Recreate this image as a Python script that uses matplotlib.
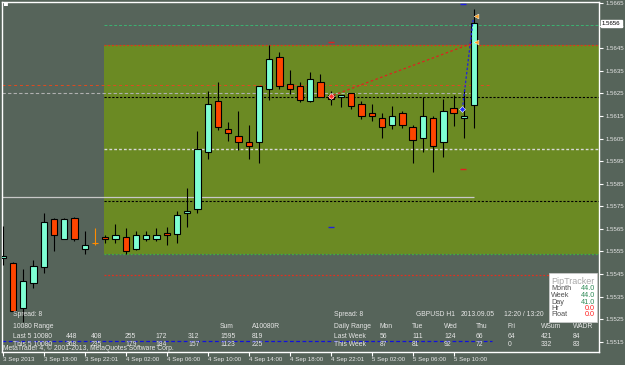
#!/usr/bin/env python3
"""MT4-style GBPUSD H1 candle chart, 3-5 Sep 2013."""
import matplotlib
matplotlib.use('Agg')
import matplotlib.pyplot as plt
from matplotlib.patches import Rectangle

plt.rcParams['font.family'] = ['Liberation Sans', 'DejaVu Sans']

# --- data ---
bar_open = [1.55520, 1.55498, 1.55301, 1.55411, 1.55479, 1.55694, 1.55607, 1.55699,
            1.55562, 1.55585, 1.55612, 1.55607, 1.55612, 1.55562, 1.55607, 1.55607,
            1.55630, 1.55626, 1.55722, 1.55740, 1.55992, 1.56216, 1.56092, 1.56060,
            1.56033, 1.56033, 1.56270, 1.56412, 1.56293, 1.56284, 1.56216, 1.56302,
            1.56243, 1.56234, 1.56252, 1.56202, 1.56165, 1.56142, 1.56110, 1.56165,
            1.56101, 1.56051, 1.56142, 1.56033, 1.56184, 1.56142, 1.56197]
bar_high = [1.55662, 1.55502, 1.55470, 1.55511, 1.55722, 1.55699, 1.55699, 1.55703,
            1.55639, 1.55653, 1.55621, 1.55671, 1.55653, 1.55639, 1.55639, 1.55653,
            1.55658, 1.55731, 1.55831, 1.56083, 1.56261, 1.56302, 1.56124, 1.56174,
            1.56110, 1.56284, 1.56463, 1.56435, 1.56353, 1.56302, 1.56344, 1.56335,
            1.56261, 1.56243, 1.56252, 1.56216, 1.56202, 1.56165, 1.56193, 1.56174,
            1.56110, 1.56234, 1.56152, 1.56225, 1.56243, 1.56270, 1.56623]
bar_low = [1.55488, 1.55283, 1.55237, 1.55388, 1.55456, 1.55553, 1.55603, 1.55598,
           1.55539, 1.55580, 1.55589, 1.55589, 1.55539, 1.55557, 1.55594, 1.55594,
           1.55580, 1.55585, 1.55658, 1.55722, 1.55960, 1.56088, 1.56037, 1.56001,
           1.55960, 1.55941, 1.56220, 1.56270, 1.56248, 1.56211, 1.56211, 1.56234,
           1.56197, 1.56188, 1.56179, 1.56138, 1.56129, 1.56051, 1.56092, 1.56097,
           1.55941, 1.55992, 1.55900, 1.55969, 1.56106, 1.56051, 1.56097]
bar_close = [1.55530, 1.55287, 1.55420, 1.55484, 1.55681, 1.55621, 1.55694, 1.55603,
             1.55580, 1.55585, 1.55603, 1.55621, 1.55553, 1.55621, 1.55621, 1.55621,
             1.55621, 1.55713, 1.55731, 1.56005, 1.56202, 1.56101, 1.56074, 1.56033,
             1.56019, 1.56284, 1.56403, 1.56284, 1.56270, 1.56220, 1.56312, 1.56234,
             1.56225, 1.56243, 1.56193, 1.56152, 1.56152, 1.56101, 1.56152, 1.56110,
             1.56042, 1.56152, 1.56019, 1.56174, 1.56161, 1.56152, 1.56563]

time_ticks = [0, 4, 8, 12, 16, 20, 24, 28, 32, 36, 40, 44]
time_labels = ['3 Sep 2013', '3 Sep 18:00', '3 Sep 22:01', '4 Sep 02:00', '4 Sep 06:00',
               '4 Sep 10:00', '4 Sep 14:00', '4 Sep 18:00', '4 Sep 22:01', '5 Sep 02:00',
               '5 Sep 06:00', '5 Sep 10:00']
price_ticks = [1.5515, 1.5525, 1.5535, 1.5545, 1.5555, 1.5565, 1.5575, 1.5585,
               1.5595, 1.5605, 1.5615, 1.5625, 1.5635, 1.5645, 1.5655, 1.5665]
bid_price = 1.5656

zone_top = 1.56463
zone_bottom = 1.55539
zone_start = 9.9

# indicator levels
lvl_bid_line = 1.56554
lvl_red_upper = 1.56289
lvl_grey_upper = 1.56252
lvl_black_upper = 1.56234
lvl_white_mid = 1.56005
lvl_grey_solid = 1.55790
lvl_black_lower = 1.55772
lvl_red_lower = 1.55447
lvl_blue_lower = 1.55155

# trade arrows / lines
trade_red = ([31.8, 45.8], [1.56234, 1.56472])
trade_blue = ([44.85, 45.9], [1.56180, 1.56577])

# stats tables
left_cols = [448, 408, 255, 172, 312, 1595, 819]
left_this = [368, 235, 179, 184, 157, 1123, 225]
day_cols = ['Mon', 'Tue', 'Wed', 'Thu', 'Fri', 'WSum', 'WADR']
last_week = ['56', '111', '124', '66', '64', '421', '84']
this_week = ['87', '81', '92', '72', '0', '332', '83']
pip_names = ['Month', 'Week', 'Day', 'Hr', 'Float']
pip_vals = ['44.0', '44.0', '41.0', '0.0', '0.0']

BG = '#56645a'
ZONE = '#6b8a23'
BULL = '#7fffd4'
BEAR = '#ff4500'
TXT = '#e6e6e6'
W, H = 625, 365
FS = 4.9

fig = plt.figure(figsize=(W / 100, H / 100), dpi=100, facecolor=BG)
ax = fig.add_axes([2 / W, 1 - 352 / H, 597 / W, 350 / H], facecolor=BG)
ax.set_xlim(-0.07, 58.18)
ax.set_ylim(1.551043, 1.566549)
xmax = 58.18

# green zone
ax.add_patch(Rectangle((zone_start, zone_bottom), xmax - zone_start, zone_top - zone_bottom,
                       facecolor=ZONE, edgecolor='none', zorder=0))
ax.hlines(zone_top, zone_start, xmax, colors='#e03020', linestyles=(0, (1.5, 1.5)), lw=0.9, zorder=1)
ax.hlines(zone_bottom, zone_start, xmax, colors='#40b040', linestyles=(0, (1.5, 1.5)), lw=0.9, zorder=1)

# horizontal levels
ax.hlines(lvl_bid_line, zone_start, xmax, colors='#3cb371', linestyles=(0, (3, 2)), lw=0.7, zorder=1)
ax.hlines(lvl_red_upper, -0.07, 47.7, colors='#e04a20', linestyles=(0, (3, 3)), lw=0.7, zorder=1)
ax.hlines(lvl_grey_upper, -0.07, 45.6, colors='#b0b0b0', linestyles=(0, (3, 2)), lw=0.8, zorder=1)
ax.hlines(lvl_black_upper, zone_start, xmax, colors='black', linestyles=(0, (2, 1.5)), lw=0.8, zorder=1)
ax.hlines(lvl_white_mid, zone_start, xmax, colors='#d8d8d8', linestyles=(0, (2, 1.5)), lw=1.0, zorder=1)
ax.hlines(lvl_grey_solid, -0.07, 46.0, colors='#c8c8c8', lw=0.9, zorder=1)
ax.hlines(lvl_black_lower, zone_start, xmax, colors='black', linestyles=(0, (2, 1.5)), lw=0.8, zorder=1)
ax.hlines(lvl_red_lower, zone_start, xmax, colors='#e03020', linestyles=(0, (1.5, 1.5)), lw=0.9, zorder=1)
ax.hlines(lvl_blue_lower, -0.07, 47.7, colors='#1010e0', linestyles=(0, (3, 2)), lw=0.9, zorder=1)

# candles
for i, (o, h, l, c) in enumerate(zip(bar_open, bar_high, bar_low, bar_close)):
    if o == c:
        ax.vlines(i, l, h, colors='#ff8c00', lw=0.8, zorder=3)
        ax.hlines(o, i - 0.33, i + 0.33, colors='#ff8c00', lw=0.8, zorder=3)
        continue
    ax.vlines(i, l, h, colors='black', lw=0.8, zorder=3)
    col = BULL if c > o else BEAR
    ax.bar(i, abs(c - o), bottom=min(o, c), width=0.62, color=col,
           edgecolor='black', linewidth=0.8, zorder=4)

# trade lines and markers
ax.plot(*trade_red, color='#e02020', ls=(0, (2, 2)), lw=0.9, zorder=5)
ax.plot(*trade_blue, color='#2020e0', ls=(0, (2, 1.5)), lw=0.9, zorder=5)
ax.plot(32, 1.56238, marker='D', ms=3, color='#ff3030', mec='white', mew=0.4, zorder=6)
ax.plot(44.85, 1.56180, marker='D', ms=3, color='#2030ff', mec='white', mew=0.4, zorder=6)
ax.plot([46.15, 46.15], [1.56595, 1.56476], ls='none', marker='<', ms=3.5,
        color='#ffa020', mec='white', mew=0.3, zorder=6)
ax.hlines([1.56645, 1.55658], [44.6, 31.7], [45.2, 32.3], colors='#2020e0', lw=1, zorder=5)
ax.hlines([1.56476, 1.55914], [31.7, 44.6], [32.3, 45.2], colors='#e02020', lw=1, zorder=5)

# axes styling
for s in ax.spines.values():
    s.set_color('white')
    s.set_linewidth(1)
ax.yaxis.tick_right()
ax.set_yticks(price_ticks)
ax.set_yticklabels([f'{p:.4f}' for p in price_ticks])
ax.set_xticks(time_ticks)
ax.set_xticklabels(time_labels, ha='left')
ax.tick_params(colors='white', labelcolor=TXT, labelsize=4.4, length=3, width=0.8,
               pad=1.5, direction='out')
ax.tick_params(axis='x', pad=0.8)

# current price box
ax.text(1.005, bid_price, f'{bid_price:.4f}', transform=ax.get_yaxis_transform(),
        fontsize=4.4, color='black', va='center', ha='left',
        bbox=dict(boxstyle='square,pad=0.2', fc='white', ec='white'), zorder=10)


def ftxt(x, y, s, **kw):
    kw.setdefault('color', TXT)
    kw.setdefault('fontsize', FS)
    fig.text(x / W, 1 - y / H, s, va='center', ha=kw.pop('ha', 'left'), **kw)


# top-left icon
ftxt(4, 6, '\u2580', fontsize=4, color='white')

# left statistics block
col_x = [66, 91, 125, 155, 188, 220, 252]
ftxt(13, 315, 'Spread: 8')
ftxt(13, 327, '10080 Range')
ftxt(220, 327, 'Sum')
ftxt(252, 327, 'A10080R')
ftxt(13, 336, 'Last 5 10080')
ftxt(13, 344, 'This 5 10080')
for x, a, b in zip(col_x, left_cols, left_this):
    ftxt(x, 336, str(a))
    ftxt(x, 344, str(b))
ftxt(3, 348.5, 'MetaTrader 4, \u00a9 2001-2013, MetaQuotes Software Corp.')

# right statistics block
day_x = [380, 412, 444, 476, 508, 541, 573]
ftxt(334, 315, 'Spread: 8')
ftxt(416, 315, 'GBPUSD H1')
ftxt(461, 315, '2013.09.05')
ftxt(504, 315, '12:20 / 13:20')
ftxt(334, 327, 'Daily Range')
ftxt(334, 336, 'Last Week')
ftxt(334, 344, 'This Week')
for x, d, a, b in zip(day_x, day_cols, last_week, this_week):
    ftxt(x, 327, d)
    ftxt(x, 336, a)
    ftxt(x, 344, b)

# PipTracker panel
fig.patches.append(Rectangle((549 / W, 1 - 322 / H), 48 / W, 49 / H, transform=fig.transFigure,
                             facecolor='white', edgecolor='#d0d0d0', lw=0.5, zorder=5))
ftxt(551, 281, 'PipTracker', color='#a8a8a8', fontsize=6.5, zorder=6)
pip_y = [289, 295.5, 302, 308, 314]
for y, name, val in zip(pip_y, pip_names, pip_vals):
    ftxt(551, y, name, color='#505050', fontsize=5.2, zorder=6)
    vcol = '#2e8b57' if val != '0.0' else '#ff2020'
    ftxt(595, y, val, color=vcol, fontsize=5.2, ha='right', zorder=6)

fig.savefig('out.png', dpi=100, facecolor=BG)
